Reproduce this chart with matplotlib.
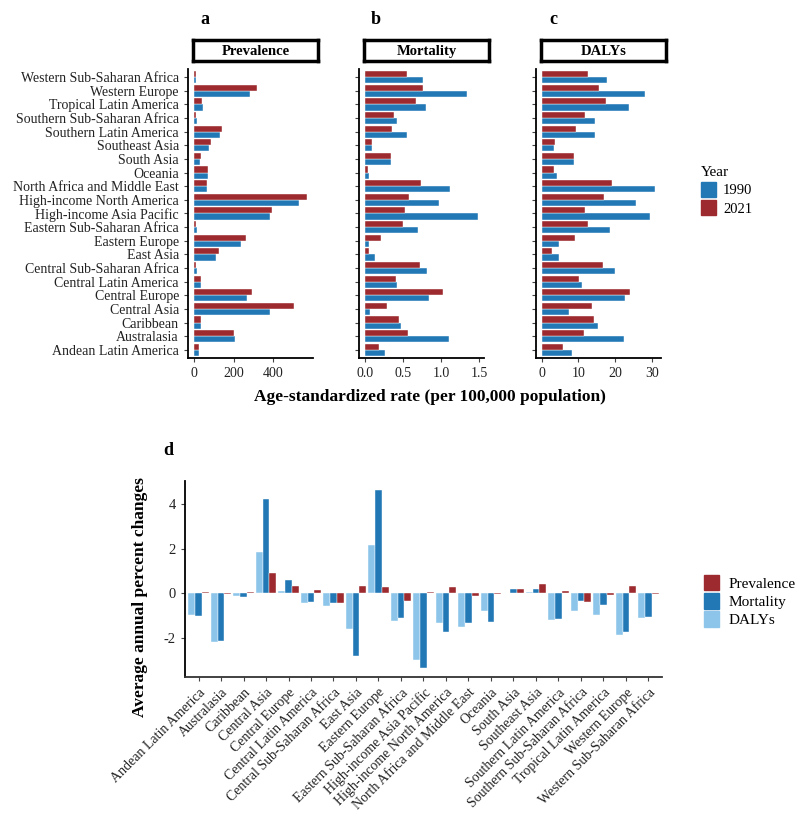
import matplotlib
matplotlib.use('Agg')
import matplotlib.pyplot as plt
from matplotlib.patches import Patch
import numpy as np

plt.rcParams['font.family'] = ['Liberation Serif', 'DejaVu Serif']
plt.rcParams['axes.unicode_minus'] = False

# GBD regions, alphabetical
regions = ['Andean Latin America', 'Australasia', 'Caribbean', 'Central Asia',
           'Central Europe', 'Central Latin America', 'Central Sub-Saharan Africa',
           'East Asia', 'Eastern Europe', 'Eastern Sub-Saharan Africa',
           'High-income Asia Pacific', 'High-income North America',
           'North Africa and Middle East', 'Oceania', 'South Asia', 'Southeast Asia',
           'Southern Latin America', 'Southern Sub-Saharan Africa',
           'Tropical Latin America', 'Western Europe', 'Western Sub-Saharan Africa']

# age-standardized rates per 100,000
prev_1990 = [27, 205, 37, 382, 268, 37, 17, 113, 238, 15, 385, 528, 68, 73, 33, 75, 133, 15, 45, 280, 13]
prev_2021 = [28, 203, 37, 503, 295, 37, 13, 125, 262, 13, 395, 570, 65, 72, 37, 85, 140, 13, 43, 317, 12]
mort_1990 = [0.27, 1.11, 0.47, 0.07, 0.84, 0.43, 0.82, 0.13, 0.06, 0.70, 1.49, 0.98, 1.12, 0.06, 0.34, 0.09, 0.56, 0.43, 0.81, 1.34, 0.77]
mort_2021 = [0.19, 0.57, 0.45, 0.29, 1.03, 0.41, 0.72, 0.06, 0.22, 0.50, 0.53, 0.58, 0.74, 0.04, 0.35, 0.10, 0.36, 0.39, 0.67, 0.77, 0.55]
daly_1990 = [8.4, 22.5, 15.3, 7.5, 22.6, 11.1, 20.1, 4.7, 4.7, 18.6, 29.6, 25.7, 31.0, 4.3, 8.8, 3.4, 14.5, 14.6, 23.9, 28.3, 17.9]
daly_2021 = [5.7, 11.6, 14.2, 13.8, 24.2, 10.2, 16.7, 2.8, 9.1, 12.5, 11.7, 17.1, 19.3, 3.4, 8.7, 3.5, 9.4, 11.9, 17.5, 15.7, 12.7]

# average annual percent changes
aapc_prev = [0.07, -0.02, 0.06, 0.90, 0.33, 0.15, -0.42, 0.33, 0.28, -0.33, 0.06, 0.27, -0.10, -0.02, 0.19, 0.42, 0.10, -0.39, -0.07, 0.33, -0.02]
aapc_mort = [-1.02, -2.16, -0.15, 4.23, 0.60, -0.37, -0.42, -2.80, 4.65, -1.10, -3.36, -1.72, -1.34, -1.30, 0.18, 0.20, -1.14, -0.36, -0.53, -1.76, -1.07]
aapc_daly = [-0.99, -2.17, -0.12, 1.87, 0.12, -0.45, -0.55, -1.59, 2.19, -1.26, -2.98, -1.32, -1.52, -0.78, 0.01, 0.08, -1.18, -0.81, -0.96, -1.86, -1.11]

RED = '#9C2A2E'
BLUE = '#2178B5'
LIGHT = '#8DC5EA'
W, H = 800, 821


def box(x0, y0, x1, y1):
    # pixel box (top-left origin) -> figure fraction rect
    return [x0 / W, 1 - y1 / H, (x1 - x0) / W, (y1 - y0) / H]


def style_axes(ax):
    for s in ['top', 'right']:
        ax.spines[s].set_visible(False)
    for s in ['left', 'bottom']:
        ax.spines[s].set_linewidth(1.3)
        ax.spines[s].set_color('black')
    ax.tick_params(length=3, width=0.8, color='#444444', labelsize=10, labelcolor='#222222')


fig = plt.figure(figsize=(8, 8.21), dpi=100)

y = np.arange(len(regions))
panels = [('a', 'Prevalence', prev_1990, prev_2021, 188, [0, 200, 400], None),
          ('b', 'Mortality', mort_1990, mort_2021, 359, [0.0, 0.5, 1.0, 1.5], '%.1f'),
          ('c', 'DALYs', daly_1990, daly_2021, 536, [0, 10, 20, 30], None)]

for letter, name, v90, v21, left, ticks, fmt in panels:
    ax = fig.add_axes(box(left, 69, left + 125, 358))
    ax.barh(y - 0.225, v90, height=0.45, color=BLUE, edgecolor='white', linewidth=0.3)
    ax.barh(y + 0.225, v21, height=0.45, color=RED, edgecolor='white', linewidth=0.3)
    hi = max(max(v90), max(v21))
    ax.set_xlim(-0.05 * hi, 1.05 * hi)
    ax.set_ylim(-0.6, len(regions) - 0.4)
    ax.set_xticks(ticks)
    if fmt:
        ax.set_xticklabels([fmt % t for t in ticks])
    ax.set_yticks(y)
    if letter == 'a':
        ax.set_yticklabels(regions)
    else:
        ax.set_yticklabels([])
    style_axes(ax)
    # strip
    sax = fig.add_axes(box(left + 5, 40, left + 130, 61))
    sax.set_xticks([])
    sax.set_yticks([])
    for s in sax.spines.values():
        s.set_linewidth(2.5)
    sax.text(0.5, 0.45, name, ha='center', va='center', fontsize=10.5, fontweight='bold')
    fig.text((left + 17) / W, 1 - 20 / H, letter, fontsize=13, fontweight='bold',
             ha='center', va='center')

fig.text(430 / W, 1 - 397 / H, 'Age-standardized rate (per 100,000 population)',
         fontsize=12.5, fontweight='bold', ha='center', va='center')

fig.legend(handles=[Patch(color=BLUE, label='1990'), Patch(color=RED, label='2021')],
           title='Year', loc='upper left', bbox_to_anchor=(688 / W, 1 - 153 / H),
           frameon=False, fontsize=10.5, title_fontsize=11, handlelength=1.0,
           handleheight=1.2, handletextpad=0.5, labelspacing=0.2, alignment='left')

# panel d
axd = fig.add_axes(box(185, 481, 662, 677))
x = np.arange(len(regions))
bw = 0.3
axd.bar(x - bw, aapc_daly, width=bw, color=LIGHT, edgecolor='white', linewidth=0.3)
axd.bar(x, aapc_mort, width=bw, color=BLUE, edgecolor='white', linewidth=0.3)
axd.bar(x + bw, aapc_prev, width=bw, color=RED, edgecolor='white', linewidth=0.3)
allv = aapc_prev + aapc_mort + aapc_daly
lo, hi = min(allv), max(allv)
axd.set_ylim(lo - 0.05 * (hi - lo), hi + 0.05 * (hi - lo))
axd.set_xlim(-0.6, len(regions) - 0.4)
axd.set_yticks([-2, 0, 2, 4])
axd.set_xticks(x)
axd.set_xticklabels(regions, rotation=45, ha='right', rotation_mode='anchor')
style_axes(axd)
axd.tick_params(axis='y', labelsize=10.5)
axd.spines['bottom'].set_color('#333333')
fig.text(140 / W, 1 - 597 / H, 'Average annual percent changes', rotation=90,
         fontsize=12.5, fontweight='bold', ha='center', va='center')
fig.text(168 / W, 1 - 450 / H, 'd', fontsize=13, fontweight='bold', ha='center', va='center')

fig.legend(handles=[Patch(color=RED, label='Prevalence'), Patch(color=BLUE, label='Mortality'),
                    Patch(color=LIGHT, label='DALYs')],
           loc='upper left', bbox_to_anchor=(690 / W, 1 - 561 / H), frameon=False,
           fontsize=11, handlelength=1.0, handleheight=1.2, handletextpad=0.6,
           labelspacing=0.15)

fig.savefig('out.png', dpi=100)
